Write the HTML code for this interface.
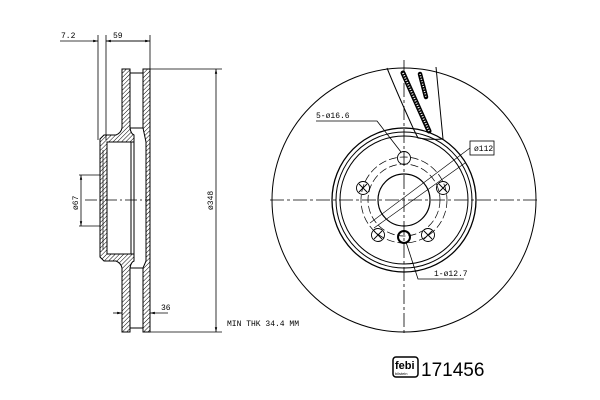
<!DOCTYPE html>
<html><head><meta charset="utf-8"><style>
html,body{margin:0;padding:0;background:#fff;width:600px;height:400px;overflow:hidden}
svg{display:block}
text{font-family:"Liberation Mono",monospace;fill:#000}
</style></head><body>
<svg width="600" height="400" viewBox="0 0 600 400" xmlns="http://www.w3.org/2000/svg">
<defs>
<pattern id="h" width="3" height="3" patternUnits="userSpaceOnUse" patternTransform="rotate(45)">
<rect width="3" height="3" fill="#fff"/><line x1="0" y1="0" x2="0" y2="3" stroke="#000" stroke-width="1"/>
</pattern>
<marker id="a" markerWidth="6" markerHeight="6" refX="6" refY="3" orient="auto"><path d="M0,1.5 L6,3 L0,4.5Z" fill="#000"/></marker>
</defs>
<g fill="none" stroke="#000" stroke-width="1">
<path d="M122,69 H130 V128 Q131,134 134,135 V142 H107 V254 H134 V261 Q131,262 130,268 V332 H122 V268 Q121,263 116,261 H104 L100,257 V139 L104,135 H116 Q121,133 122,128 Z" fill="url(#h)"/>
<path d="M143,69 H150 V332 H143 V268 L146,261 V142 L143,128 Z" fill="url(#h)"/>
<line x1="130" y1="73" x2="143" y2="73"/><line x1="130" y1="328" x2="143" y2="328"/>
<line x1="134" y1="142" x2="134" y2="254"/><line x1="131" y1="142" x2="131" y2="254"/>
<line x1="146" y1="142" x2="146" y2="261"/>
<line x1="130" y1="128" x2="143" y2="128"/><line x1="130" y1="268" x2="143" y2="268"/>
<line x1="103" y1="150" x2="103" y2="250" stroke-width="0.7"/>
<line x1="85" y1="200" x2="150" y2="200" stroke-dasharray="12,3,2,3" stroke-width="0.7"/>
<line x1="98" y1="35" x2="98" y2="140" stroke-width="0.8"/>
<line x1="106" y1="35" x2="106" y2="140" stroke-width="0.8"/>
<line x1="150" y1="35" x2="150" y2="69" stroke-width="0.8"/>
<line x1="60" y1="41" x2="98" y2="41" stroke-width="0.8" marker-end="url(#a)"/>
<line x1="150" y1="41" x2="106" y2="41" stroke-width="0.8" marker-end="url(#a)"/>
<line x1="106" y1="41" x2="150" y2="41" stroke-width="0.8" marker-end="url(#a)"/>
<line x1="150" y1="69" x2="222" y2="69" stroke-width="0.8"/>
<line x1="150" y1="332" x2="222" y2="332" stroke-width="0.8"/>
<line x1="216" y1="200" x2="216" y2="69" stroke-width="0.8" marker-end="url(#a)"/>
<line x1="216" y1="200" x2="216" y2="332" stroke-width="0.8" marker-end="url(#a)"/>
<line x1="79" y1="175" x2="100" y2="175" stroke-width="0.8"/>
<line x1="79" y1="226" x2="100" y2="226" stroke-width="0.8"/>
<line x1="81" y1="200" x2="81" y2="175" stroke-width="0.8" marker-end="url(#a)"/>
<line x1="81" y1="200" x2="81" y2="226" stroke-width="0.8" marker-end="url(#a)"/>
<line x1="113" y1="313" x2="122" y2="313" stroke-width="0.8" marker-end="url(#a)"/>
<line x1="168" y1="313" x2="150" y2="313" stroke-width="0.8" marker-end="url(#a)"/>
<circle cx="404" cy="200" r="132"/>
<circle cx="404" cy="200" r="72" stroke-width="1.3"/>
<circle cx="404" cy="200" r="68"/>
<circle cx="404" cy="200" r="64"/>
<circle cx="404" cy="200" r="26" stroke-width="1.2"/>
<circle cx="404" cy="200" r="43" stroke-dasharray="8,3" stroke-width="0.7"/>
<circle cx="404" cy="200" r="36" stroke-dasharray="8,3" stroke-width="0.7"/>
<line x1="270" y1="200" x2="540" y2="200" stroke-dasharray="14,3,3,3" stroke-width="0.8"/>
<line x1="404" y1="60" x2="404" y2="335" stroke-dasharray="14,3,3,3" stroke-width="0.8"/>
<g stroke-width="0.9">
<circle cx="404" cy="158" r="6.5"/><circle cx="363" cy="188" r="6.5"/><circle cx="443" cy="188" r="6.5"/>
<circle cx="378" cy="235" r="6.5"/><circle cx="428" cy="235" r="6.5"/>
<path d="M359,184l8,8M367,184l-8,8M439,184l8,8M447,184l-8,8M374,231l8,8M382,231l-8,8M424,231l8,8M432,231l-8,8"/>
</g>
<circle cx="404" cy="237" r="6" stroke-width="2"/>
<path d="M387,68 Q398,95 414,130 L418,138 Q430,140 443,139 L440,108 L436,67"/>
<line x1="403" y1="73" x2="429" y2="131" stroke-width="5" stroke-linecap="round"/>
<line x1="403" y1="73" x2="429" y2="131" stroke="#fff" stroke-width="2" stroke-dasharray="1,1.5"/>
<line x1="420" y1="74" x2="426" y2="97" stroke-width="4.5" stroke-linecap="round"/>
<line x1="420" y1="74" x2="426" y2="97" stroke="#fff" stroke-width="1.5" stroke-dasharray="1,1.5"/>
<path d="M316,121 H377 L401,152" stroke-width="0.8"/>
<path d="M370,223 L470,148 M374,228 L465,163" stroke-width="0.7"/>
<rect x="470" y="141" width="24" height="14" stroke-width="0.8"/>
<path d="M406,242 L418,279 H464" stroke-width="0.8"/>
</g>
<g font-size="8">
<text x="61" y="38">7.2</text>
<text x="113" y="38">59</text>
<text x="161" y="310">36</text>
<text x="227" y="326">MIN THK 34.4 MM</text>
<text x="316" y="118">5-ø16.6</text>
<text x="474" y="151">ø112</text>
<text x="434" y="276">1-ø12.7</text>
<text transform="translate(213,210) rotate(-90)">ø348</text>
<text transform="translate(78,210) rotate(-90)">ø67</text>
</g>
<g>
<rect x="393" y="357" width="25" height="20" rx="3" fill="#fff" stroke="#000" stroke-width="1.5"/>
<text x="395" y="369" font-size="11" font-weight="bold" style="font-family:'Liberation Sans',sans-serif">febi</text>
<text x="395" y="375" font-size="4" style="font-family:'Liberation Sans',sans-serif">bilstein</text>
<text x="421" y="376" font-size="19" style="font-family:'Liberation Sans',sans-serif">171456</text>
</g>
</svg>
</body></html>
